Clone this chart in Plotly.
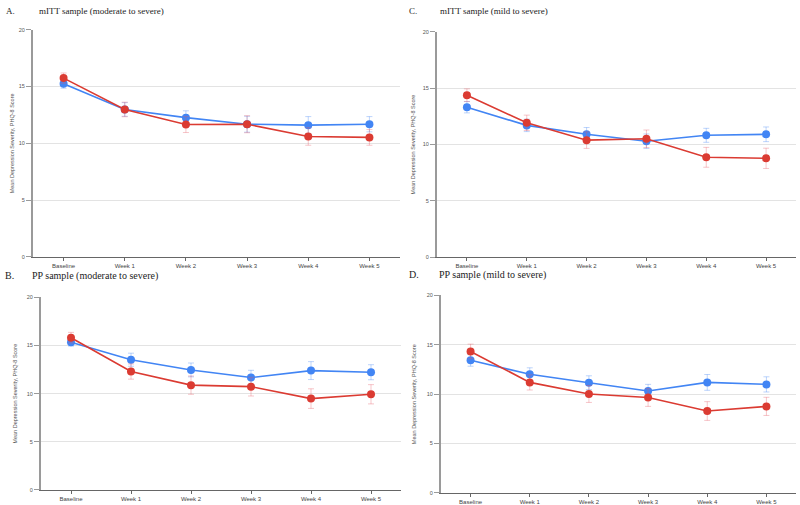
import plotly.graph_objects as go

categories = ["Baseline", "Week 1", "Week 2", "Week 3", "Week 4", "Week 5"]

# Panel A: mITT sample (moderate to severe)
a_blue = [15.25, 12.98, 12.26, 11.68, 11.60, 11.68]
a_blue_err = [0.40, 0.60, 0.60, 0.70, 0.75, 0.67]
a_red = [15.74, 12.98, 11.65, 11.68, 10.60, 10.52]
a_red_err = [0.45, 0.64, 0.70, 0.75, 0.77, 0.69]

# Panel C: mITT sample (mild to severe)
c_blue = [13.30, 11.69, 10.90, 10.29, 10.81, 10.90]
c_blue_err = [0.50, 0.55, 0.60, 0.64, 0.62, 0.65]
c_red = [14.37, 11.92, 10.38, 10.50, 8.86, 8.77]
c_red_err = [0.56, 0.68, 0.73, 0.78, 0.88, 0.90]

# Panel B: PP sample (moderate to severe)
b_blue = [15.34, 13.52, 12.46, 11.67, 12.39, 12.22]
b_blue_err = [0.40, 0.68, 0.72, 0.75, 0.93, 0.78]
b_red = [15.81, 12.29, 10.88, 10.72, 9.48, 9.93]
b_red_err = [0.55, 0.79, 0.95, 0.97, 1.02, 1.00]

# Panel D: PP sample (mild to severe)
d_blue = [13.43, 12.02, 11.16, 10.32, 11.19, 10.99]
d_blue_err = [0.60, 0.65, 0.70, 0.67, 0.80, 0.77]
d_red = [14.33, 11.19, 10.02, 9.66, 8.29, 8.76]
d_red_err = [0.74, 0.77, 0.86, 0.90, 0.95, 0.92]

y_ticks = [0, 5, 10, 15, 20]
y_title = "Mean Depression Severity, PHQ-8 Score"

panels = [
    ("A.", "mITT sample (moderate to severe)", a_blue, a_blue_err, a_red, a_red_err,
     [33 / 800, 400 / 800], [248 / 505, 478 / 505], 8, 4, 37, 12, 9),
    ("C.", "mITT sample (mild to severe)", c_blue, c_blue_err, c_red, c_red_err,
     [437 / 800, 796 / 800], [247.7 / 505, 476 / 505], 8, 407, 438, 413, 9),
    ("B.", "PP sample (moderate to severe)", b_blue, b_blue_err, b_red, b_red_err,
     [41 / 800, 401 / 800], [12.3 / 505, 207.1 / 505], 276, 3, 30, 15, 10),
    ("D.", "PP sample (mild to severe)", d_blue, d_blue_err, d_red, d_red_err,
     [441 / 800, 796 / 800], [9.3 / 505, 209 / 505], 275, 407, 437, 414, 10),
]

BLUE = "#4285F4"
RED = "#DB3B32"

fig = go.Figure()
annotations = []
for i, (letter, title, blue, berr, red, rerr, xd, yd, ty, lx, tx, ytx, fs) in enumerate(panels):
    n = "" if i == 0 else str(i + 1)
    xa, ya = "x" + n, "y" + n
    fig.add_trace(go.Scatter(
        x=categories, y=blue, mode="lines+markers", xaxis=xa, yaxis=ya,
        line=dict(color=BLUE, width=1.6), marker=dict(color=BLUE, size=8),
        error_y=dict(type="data", array=berr, visible=True, color="rgba(66,133,244,0.35)",
                     thickness=1, width=3),
        showlegend=False))
    fig.add_trace(go.Scatter(
        x=categories, y=red, mode="lines+markers", xaxis=xa, yaxis=ya,
        line=dict(color=RED, width=1.6), marker=dict(color=RED, size=8),
        error_y=dict(type="data", array=rerr, visible=True, color="rgba(230,90,100,0.35)",
                     thickness=1, width=3),
        showlegend=False))
    fig.layout["xaxis" + n] = dict(
        domain=xd, anchor=ya, type="category", range=[-0.5, 5.5],
        showgrid=False, showline=True, linecolor="#666", linewidth=1,
        ticks="outside", ticklen=3, tickcolor="#666",
        tickfont=dict(family="Arial, Liberation Sans", size=6, color="#444"),
        zeroline=False, fixedrange=True)
    fig.layout["yaxis" + n] = dict(
        domain=yd, anchor=xa, range=[0, 20], tickvals=y_ticks,
        showgrid=True, gridcolor="#e3e3e3", gridwidth=1,
        showline=True, linecolor="#9a9a9a", linewidth=2,
        ticks="outside", ticklen=5, tickcolor="#9a9a9a",
        tickfont=dict(family="Arial, Liberation Sans", size=5.5, color="#555"),
        zeroline=False, fixedrange=True)
    ymid = (yd[0] + yd[1]) / 2
    annotations.append(dict(
        text=y_title, x=ytx / 800, y=ymid, xref="paper", yref="paper",
        textangle=-90, showarrow=False, xanchor="center", yanchor="middle",
        font=dict(family="Arial, Liberation Sans", size=5.5, color="#555")))
    annotations.append(dict(
        text=letter, x=lx / 800, y=1 - ty / 505, xref="paper", yref="paper",
        showarrow=False, xanchor="left", yanchor="middle",
        font=dict(family="Liberation Serif, Times New Roman", size=fs, color="#222")))
    annotations.append(dict(
        text=title, x=tx / 800, y=1 - ty / 505, xref="paper", yref="paper",
        showarrow=False, xanchor="left", yanchor="middle",
        font=dict(family="Liberation Serif, Times New Roman", size=fs, color="#222")))

fig.update_layout(
    width=800, height=505, margin=dict(l=0, r=0, t=0, b=0),
    paper_bgcolor="white", plot_bgcolor="white",
    annotations=annotations)

fig.write_html("out.html", config={"displayModeBar": False},
               post_script="document.body.style.margin='0';document.body.style.overflow='hidden';")
